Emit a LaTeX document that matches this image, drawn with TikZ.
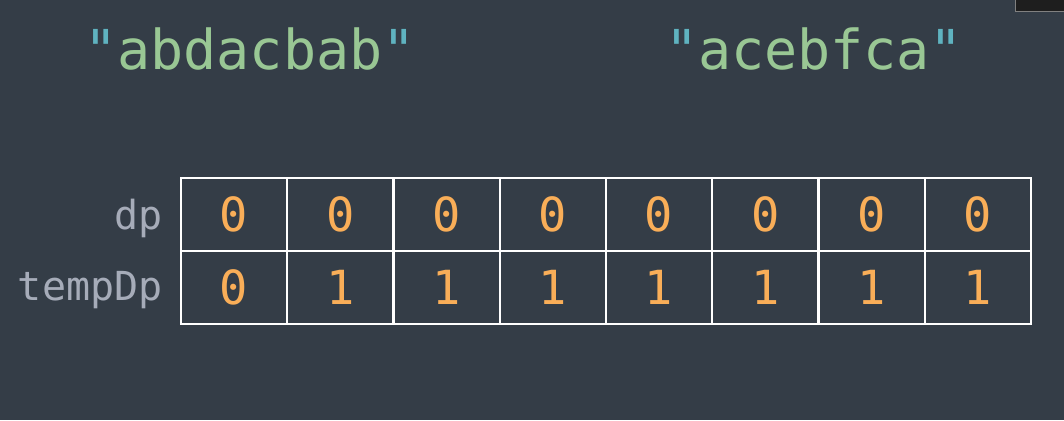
\documentclass[tikz,border=0pt]{standalone}
\usepackage{fontspec}
\setmonofont{DejaVu Sans Mono}
\definecolor{bg}{HTML}{343D47}
\definecolor{strgreen}{HTML}{99C794}
\definecolor{quotecyan}{HTML}{5FB3C0}
\definecolor{labelgrey}{HTML}{A6ACB9}
\definecolor{numorange}{HTML}{F9AE58}
\tikzset{
  cell/.style={draw=white, line width=2pt, minimum width=106.25pt, minimum height=73pt,
    inner sep=0pt, text=numorange, font=\fontsize{47}{47}\ttfamily},
  rowlabel/.style={anchor=east, text=labelgrey, font=\fontsize{40}{40}\ttfamily},
  title/.style={anchor=base, text=strgreen, font=\fontsize{55}{55}\ttfamily}
}
\newcommand{\qt}{\textcolor{quotecyan}{"}}
\begin{document}
\begin{tikzpicture}[x=1pt,y=-1pt]
  \fill[bg] (0,0) rectangle (1064,420);
  \useasboundingbox (0,0) rectangle (1064,420);
  \draw[fill={rgb,255:red,30;green,30;blue,30}, draw=gray] (1015,-2) rectangle (1066,11);
  % the two strings
  \node[title] (s1) at (250,70) {\qt abdacbab\qt};
  \node[title] (s2) at (814,70) {\qt acebfca\qt};
  % dp row
  \node[cell] (d0) at (234.1,214.5) {0};
  \node[cell] (d1) at (340.4,214.5) {0};
  \node[cell] (d2) at (446.6,214.5) {0};
  \node[cell] (d3) at (552.9,214.5) {0};
  \node[cell] (d4) at (659.1,214.5) {0};
  \node[cell] (d5) at (765.4,214.5) {0};
  \node[cell] (d6) at (871.6,214.5) {0};
  \node[cell] (d7) at (977.9,214.5) {0};
  % tempDp row
  \node[cell] (t0) at (234.1,287.5) {0};
  \node[cell] (t1) at (340.4,287.5) {1};
  \node[cell] (t2) at (446.6,287.5) {1};
  \node[cell] (t3) at (552.9,287.5) {1};
  \node[cell] (t4) at (659.1,287.5) {1};
  \node[cell] (t5) at (765.4,287.5) {1};
  \node[cell] (t6) at (871.6,287.5) {1};
  \node[cell] (t7) at (977.9,287.5) {1};
  % labels
  \node[rowlabel] (ldp) at (166,218) {dp};
  \node[rowlabel] (ltemp) at (166,290) {tempDp};
\end{tikzpicture}
\end{document}
